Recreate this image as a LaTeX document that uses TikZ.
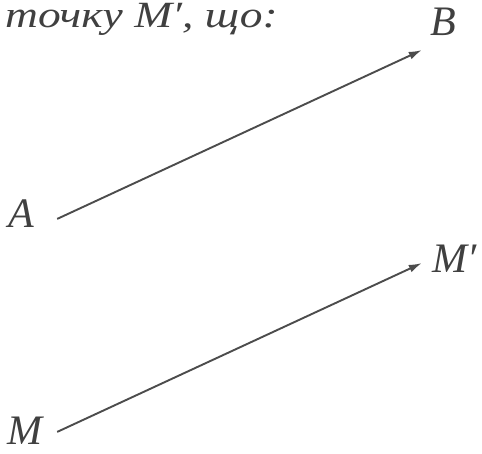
\documentclass[tikz,border=0pt]{standalone}
\usepackage{fontspec}
\setmainfont{Liberation Serif}
\usetikzlibrary{arrows.meta}
\begin{document}
\begin{tikzpicture}[x=1pt,y=1pt,
  pt/.style={inner sep=0pt,minimum size=0pt},
  lbl/.style={inner sep=0pt,text=black!75,font=\fontsize{42}{42}\selectfont\itshape},
  vec/.style={line width=1.9pt,draw=black!70,-{Latex[length=13pt,width=8pt]}}]
  \useasboundingbox (0,0) rectangle (482,453);
  \node[anchor=base west,inner sep=0pt,xscale=1.23,transform shape,text=black!75,font=\fontsize{37}{37}\selectfont\itshape] (title) at (5,425) {точку M′, що:};
  \node[pt,label={[lbl,label distance=22pt,yshift=5pt]left:A}] (A) at (57,234) {};
  \node[pt,label={[lbl,label distance=0pt,xshift=8pt,yshift=14pt]above right:B}] (B) at (422,403) {};
  \node[pt,label={[lbl,label distance=14pt,yshift=1pt]left:M}] (M) at (57,21) {};
  \node[pt,label={[lbl,label distance=10pt,yshift=4pt]right:M′}] (M1) at (422,190) {};
  \draw[vec] (A) -- (B);
  \draw[vec] (M) -- (M1);
\end{tikzpicture}
\end{document}
